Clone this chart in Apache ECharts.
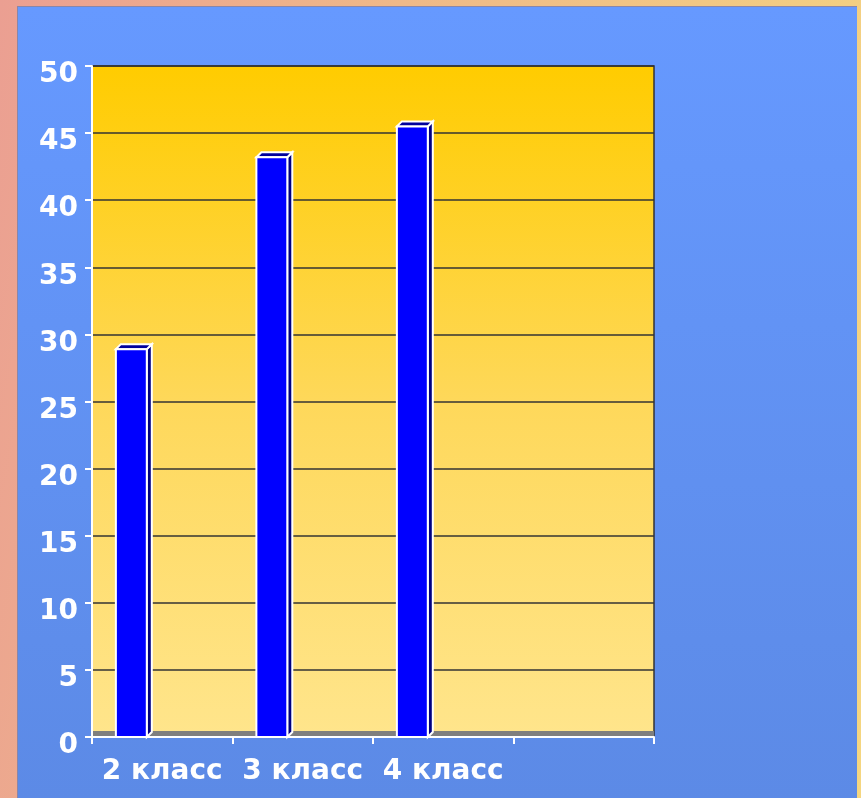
<!DOCTYPE html>
<html>
<head>
<meta charset="utf-8">
<script src="https://cdn.jsdelivr.net/npm/echarts@6/dist/echarts.min.js"></script>
<style>
  html, body { margin: 0; padding: 0; }
  body {
    width: 861px; height: 798px; position: relative; overflow: hidden;
    background: linear-gradient(100deg, #eb9f92 0%, #efb988 40%, #f5d680 100%);
  }
  #panel {
    position: absolute; left: 17px; top: 6px; width: 839px; height: 792px;
    background: linear-gradient(180deg, #6699ff 0%, #5c8ae6 100%);
    border-left: 1px solid #8a86a8; border-top: 1px solid #8a86a8;
  }
  #chart { position: absolute; left: 0; top: 0; width: 861px; height: 798px; }
</style>
</head>
<body>
<div id="panel"></div>
<div id="chart"></div>
<script>
  // данные диаграммы
  const categories = ['2 класс', '3 класс', '4 класс', ''];
  const values = [28.9, 43.2, 45.5];
  const yMin = 0;
  const yMax = 50;
  const yStep = 5;

  const font = "'DejaVu Sans', Verdana, sans-serif";
  const depth = 5;

  // столбик с псевдо-3D гранями
  function renderBar(params, api) {
    const i = api.value(0);
    const v = api.value(1);
    const top = api.coord([i, v]);
    const base = api.coord([i, 0]);
    const band = api.size([1, 0])[0];
    const w = band * 0.22;
    const x = top[0] - band * 0.22 - w / 2;
    const y = top[1];
    const line = { stroke: '#ffffff', lineWidth: 2 };
    return {
      type: 'group',
      children: [
        {
          type: 'polygon',
          shape: { points: [[x + w, y], [x + w + depth, y - depth], [x + w + depth, base[1] - depth], [x + w, base[1]]] },
          style: Object.assign({ fill: '#000080' }, line)
        },
        {
          type: 'polygon',
          shape: { points: [[x, y], [x + depth, y - depth], [x + w + depth, y - depth], [x + w, y]] },
          style: Object.assign({ fill: '#00009c' }, line)
        },
        {
          type: 'rect',
          shape: { x: x, y: y, width: w, height: base[1] - y },
          style: Object.assign({ fill: '#0000ff' }, line)
        }
      ]
    };
  }

  const myChart = echarts.init(document.getElementById('chart'));
  const option = {
    backgroundColor: 'transparent',
    animation: false,
    grid: {
      left: 92,
      right: 207,
      top: 66,
      bottom: 61,
      show: true,
      borderColor: '#333333',
      borderWidth: 1.5,
      backgroundColor: {
        type: 'linear', x: 0, y: 0, x2: 0, y2: 1,
        colorStops: [
          { offset: 0, color: '#ffcc00' },
          { offset: 0.5, color: '#fed85a' },
          { offset: 1, color: '#ffe58c' }
        ]
      }
    },
    graphic: [
      {
        type: 'rect',
        shape: { x: 93, y: 731, width: 561, height: 5 },
        style: { fill: '#7f7f7f' },
        z: 1
      }
    ],
    xAxis: {
      type: 'category',
      data: categories,
      axisLine: { show: true, lineStyle: { color: '#ffffff', width: 2 } },
      axisTick: { show: true, length: 7, interval: 0, lineStyle: { color: '#ffffff', width: 2 } },
      axisLabel: {
        interval: 0,
        margin: 21,
        color: '#ffffff',
        fontFamily: font,
        fontWeight: 'bold',
        fontSize: 28
      },
      splitLine: { show: false }
    },
    yAxis: {
      type: 'value',
      min: yMin,
      max: yMax,
      interval: yStep,
      axisLine: { show: true, lineStyle: { color: '#ffffff', width: 2 } },
      axisTick: { show: true, length: 7, lineStyle: { color: '#ffffff', width: 2 } },
      axisLabel: {
        margin: 14,
        formatter: '{n|{value}}',
        rich: {
          n: {
            color: '#ffffff',
            fontFamily: font,
            fontWeight: 'bold',
            fontSize: 28,
            padding: [18, 0, 0, 0]
          }
        }
      },
      splitLine: { show: true, lineStyle: { color: '#333333', width: 1.5 } }
    },
    series: [
      {
        type: 'custom',
        renderItem: renderBar,
        encode: { x: 0, y: 1 },
        data: values.map((v, i) => [i, v]),
        z: 5
      }
    ]
  };
  myChart.setOption(option);
</script>
</body>
</html>
